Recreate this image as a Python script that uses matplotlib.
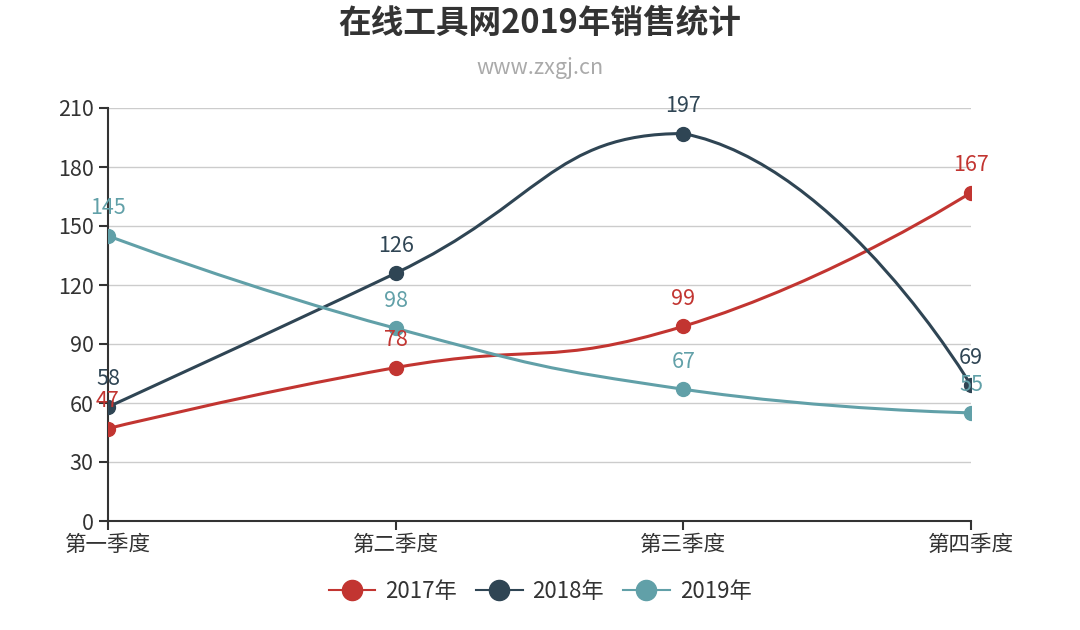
import matplotlib
matplotlib.use('Agg')
import matplotlib.pyplot as plt
from matplotlib.path import Path
from matplotlib.patches import PathPatch
from matplotlib.lines import Line2D
import numpy as np

plt.rcParams['font.family'] = ['Noto Sans CJK SC', 'DejaVu Sans']

quarters = ['第一季度', '第二季度', '第三季度', '第四季度']
years = ['2017年', '2018年', '2019年']
sales_2017 = [47, 78, 99, 167]
sales_2018 = [58, 126, 197, 69]
sales_2019 = [145, 98, 67, 55]
yticks = [0, 30, 60, 90, 120, 150, 180, 210]
colors = ['#c23531', '#2f4554', '#61a0a8']

fig = plt.figure(figsize=(10.8, 6.3), dpi=100)
ax = fig.add_axes([108 / 1080, 109 / 630, 863 / 1080, 413 / 630])
x = np.arange(len(quarters))
ax.set_xlim(0, len(quarters) - 1)
ax.set_ylim(yticks[0], yticks[-1])


def smooth_path(px, py, smooth=0.5):
    # echarts-like bezier smoothing, done in pixel space with bbox constraint
    pts = ax.transData.transform(np.column_stack([px, py]))
    lo, hi = pts.min(axis=0), pts.max(axis=0)
    verts = [pts[0]]
    codes = [Path.MOVETO]
    cp0 = pts[0].copy()
    n = len(pts)
    for i in range(1, n):
        p = pts[i]
        if i == n - 1:
            cp1 = p.copy()
            nxt = None
        else:
            v = pts[i + 1] - pts[i - 1]
            d0 = np.hypot(*(p - pts[i - 1]))
            d1 = np.hypot(*(pts[i + 1] - p))
            r = d1 / (d0 + d1)
            cp1 = p - v * smooth * (1 - r)
            nxt = p + v * smooth * r
        cp0 = np.clip(cp0, lo, hi)
        cp1 = np.clip(cp1, lo, hi)
        verts += [cp0, cp1, p]
        codes += [Path.CURVE4] * 3
        cp0 = nxt
    verts = ax.transData.inverted().transform(np.array(verts))
    return Path(verts, codes)


for vals, col in zip([sales_2017, sales_2018, sales_2019], colors):
    ax.add_patch(PathPatch(smooth_path(x, vals), facecolor='none', edgecolor=col,
                           lw=2.2, zorder=3, capstyle='round', joinstyle='round'))
    ax.plot(x, vals, 'o', ms=10, color=col, zorder=4)
    for xi, v in zip(x, vals):
        ax.annotate(str(v), (xi, v), xytext=(0, 15.5), textcoords='offset points',
                    ha='center', va='baseline', fontsize=15.5, color=col, zorder=10,
                    annotation_clip=False)

ax.set_yticks(yticks)
ax.set_xticks(x)
ax.set_xticklabels(quarters)
ax.grid(axis='y', color='#cccccc', lw=1)
ax.set_axisbelow(True)
for s in ['top', 'right']:
    ax.spines[s].set_visible(False)
for s in ['left', 'bottom']:
    ax.spines[s].set_color('#333333')
    ax.spines[s].set_linewidth(1.5)
ax.tick_params(axis='both', colors='#333333', labelsize=15.5, length=6.5, width=1.5)
ax.tick_params(axis='y', pad=4)
ax.tick_params(axis='x', pad=2.5)

fig.text(0.5, 1 - 23 / 630, '在线工具网2019年销售统计', ha='center', va='center',
         fontsize=23.5, fontweight='bold', color='#333333')
fig.text(0.5, 1 - 68 / 630, 'www.zxgj.cn', ha='center', va='center',
         fontsize=15.5, color='#aaaaaa')

handles = [Line2D([], [], color=c, lw=1.5, marker='o', ms=14.5) for c in colors]
fig.legend(handles, years, loc='center', bbox_to_anchor=(0.5, 39 / 630), ncol=3,
           frameon=False, fontsize=16, handlelength=2.1, handletextpad=0.45,
           columnspacing=0.85, labelcolor='#333333')

fig.savefig('out.png', dpi=100, facecolor='white')
